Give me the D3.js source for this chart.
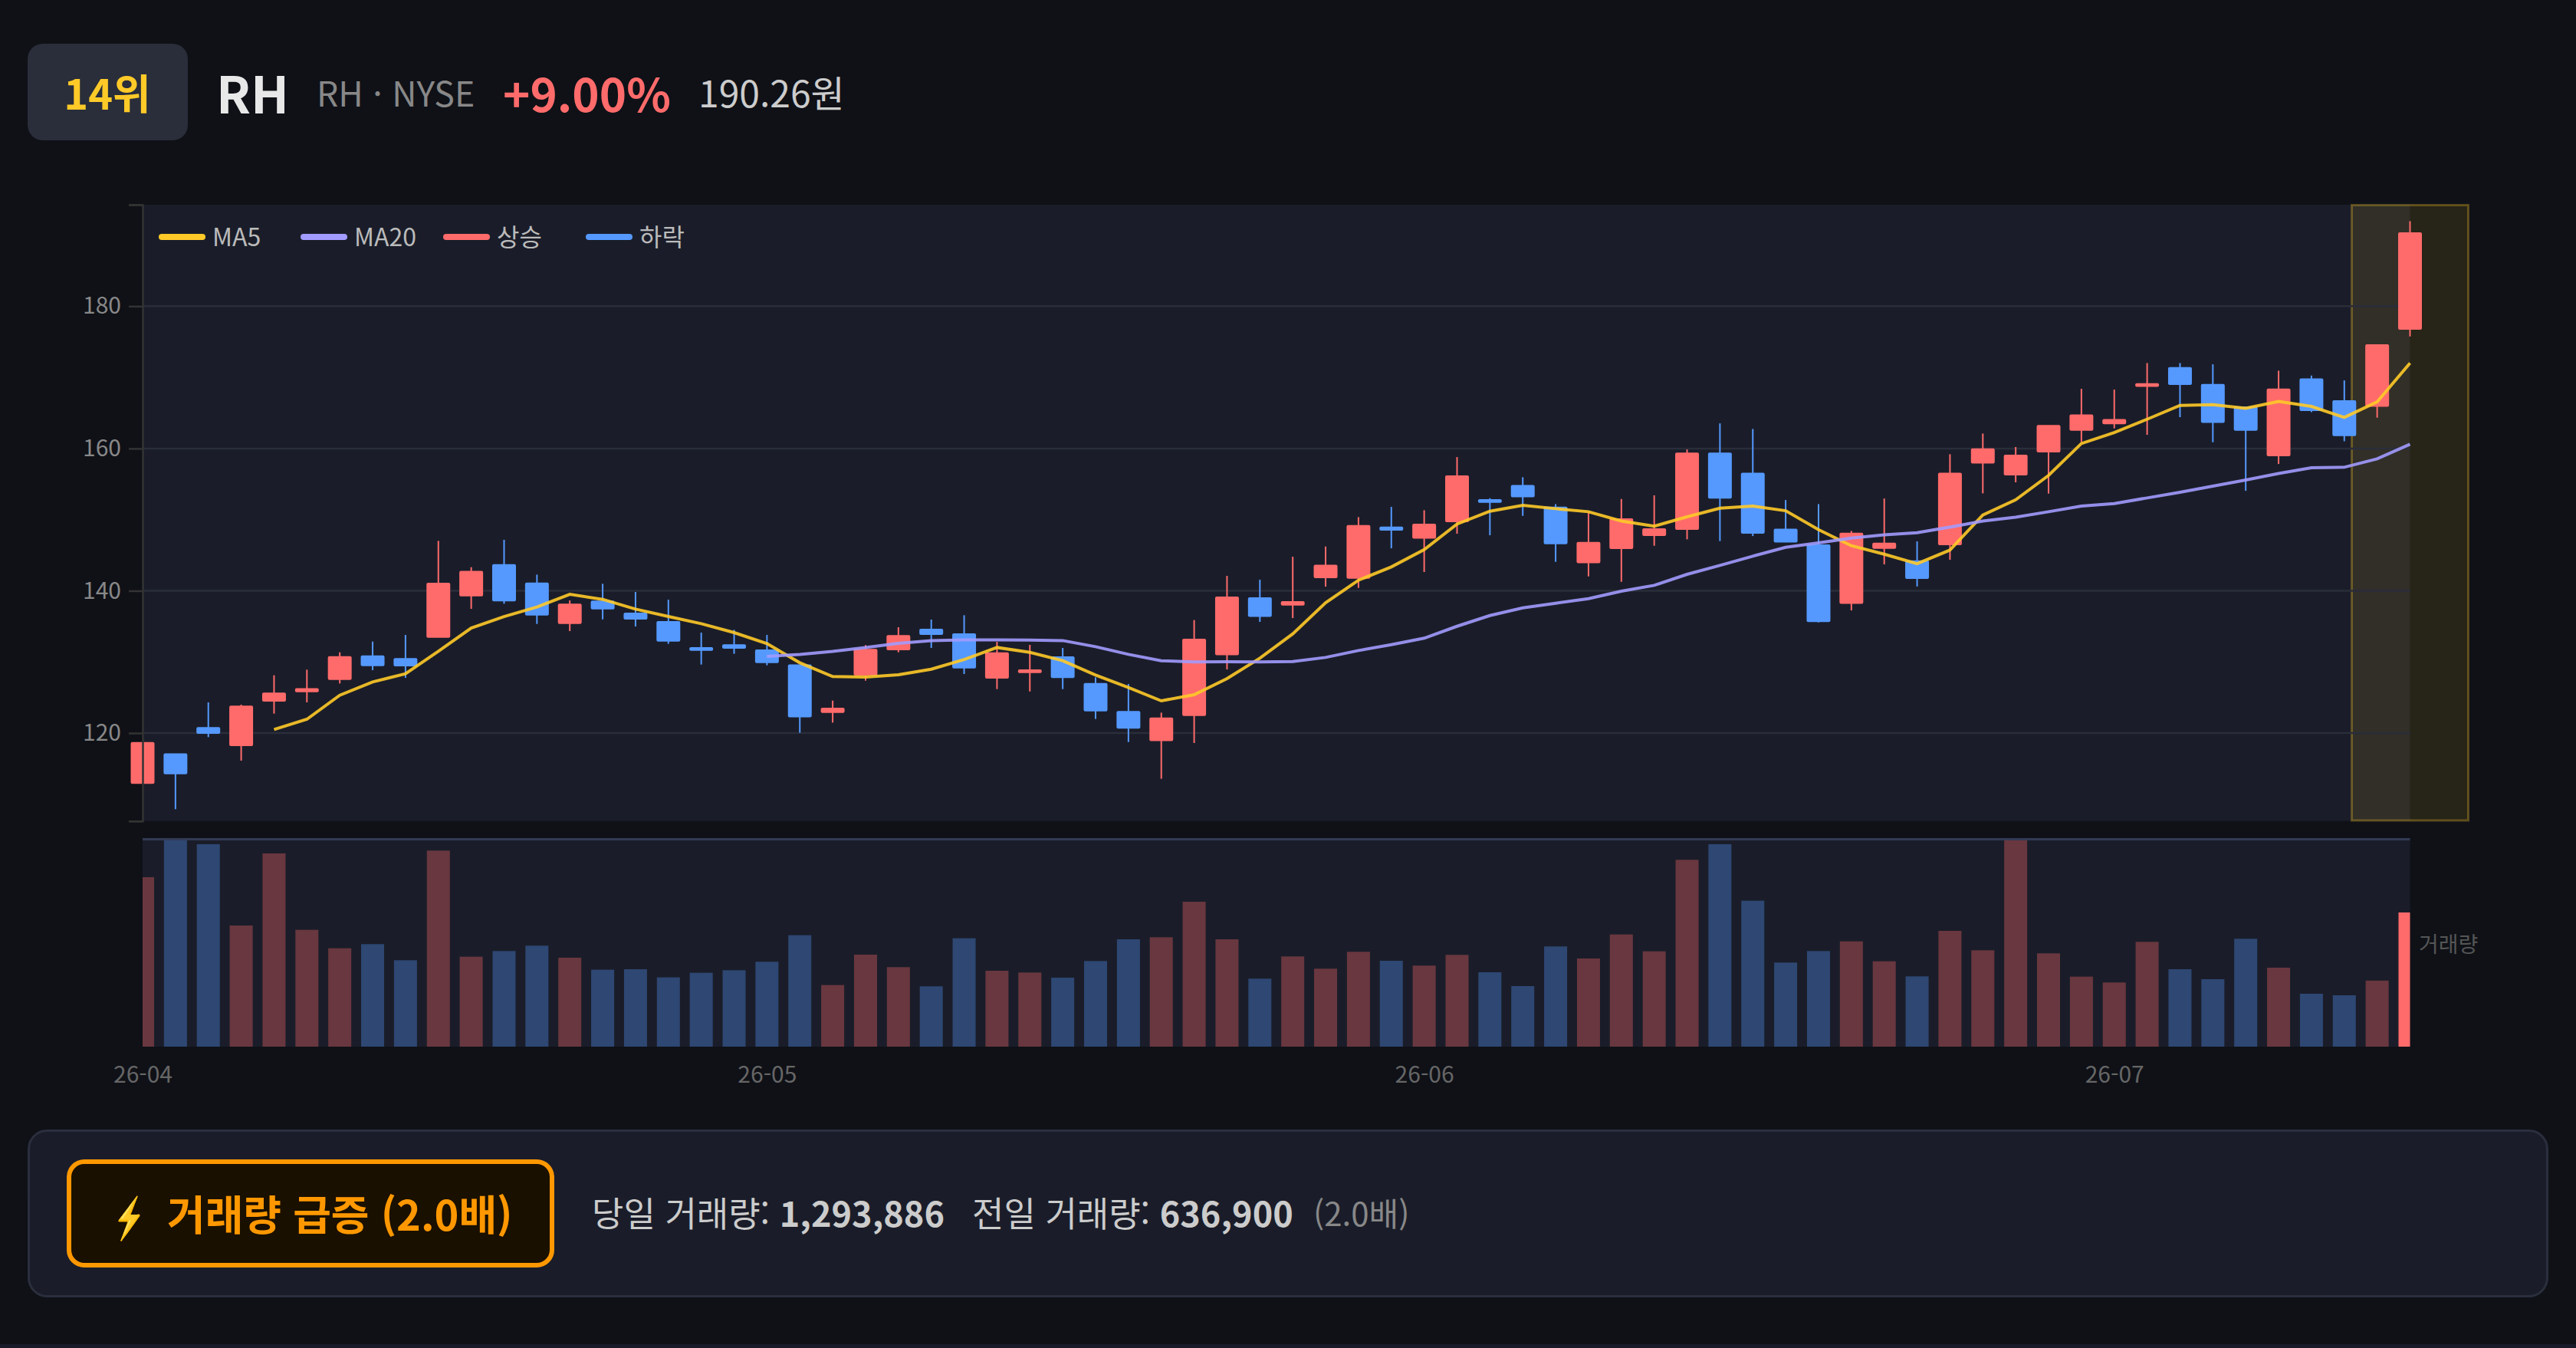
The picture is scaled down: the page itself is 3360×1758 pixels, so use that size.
<!DOCTYPE html>
<html lang="ko">
<head>
<meta charset="utf-8">
<title>RH</title>
<script src="https://cdn.jsdelivr.net/npm/d3@7"></script>
<style>
  html, body { margin: 0; padding: 0; background: #0f1117; }
  svg { display: block; }
  text { font-family: "Noto Sans CJK KR", "Noto Sans", sans-serif; }
</style>
</head>
<body>
<svg id="chart" width="3360" height="1758"></svg>
<script>
// values
const opens = [112.96,117.05,120.72,118.28,124.53,125.85,127.58,130.81,130.42,133.51,139.32,143.64,141.05,135.45,138.5,136.81,135.63,131.96,132.36,131.64,129.55,122.95,128.19,131.75,134.55,133.9,127.76,128.55,130.67,126.93,122.98,118.99,122.51,131.06,138.97,138.03,141.88,141.8,148.92,147.44,149.74,152.76,154.77,151.72,143.99,145.97,147.8,148.66,159.3,156.49,148.63,146.4,138.28,146.0,144.17,146.51,158.0,156.31,159.55,162.6,163.53,168.78,171.33,168.96,165.8,159.01,169.75,166.66,165.98,176.79];
const closes = [118.63,114.32,120.0,123.74,125.57,126.21,130.7,129.52,129.48,141.01,142.7,138.61,136.63,138.07,137.49,136.06,132.97,131.67,131.96,129.95,122.33,123.45,131.71,133.65,133.9,129.2,131.24,128.84,127.83,123.16,120.72,122.08,133.15,139.07,136.45,138.43,143.56,149.13,148.56,149.31,156.1,152.47,153.26,146.65,146.76,150.06,148.66,159.3,153.05,148.13,146.9,135.7,148.05,146.65,141.77,156.49,159.91,159.01,163.18,164.68,164.04,169.07,169.03,163.71,162.6,168.31,165.37,161.85,174.53,190.26];
const highs = [118.7,117.1,124.31,123.99,128.12,128.91,131.35,132.86,133.79,147.01,143.31,147.16,142.27,138.64,140.98,139.83,138.75,134.12,134.51,133.79,129.6,124.56,132.36,134.87,135.95,136.56,132.82,132.39,131.96,127.83,126.9,122.87,135.88,142.09,141.55,144.78,146.22,150.35,151.79,151.32,158.79,153.01,155.96,152.18,151.0,152.9,153.41,159.87,163.53,162.74,152.76,152.18,148.41,152.97,146.94,159.19,162.1,160.2,163.2,168.38,168.28,172.01,172.01,171.83,165.9,170.93,170.25,169.57,174.6,191.95];
const lows = [112.9,109.3,119.43,116.12,122.73,124.31,126.97,128.84,127.76,133.51,137.46,138.18,135.34,134.33,135.98,134.98,132.54,129.63,131.14,129.52,120.04,121.47,127.36,131.35,131.96,128.3,126.18,125.85,126.18,121.98,118.74,113.57,118.6,128.94,135.63,136.16,140.58,140.4,145.97,142.63,148.02,147.8,150.53,144.07,142.02,141.26,146.33,147.23,146.98,147.69,146.83,135.55,137.24,143.71,140.6,144.35,153.69,155.24,153.66,160.88,162.82,161.92,164.4,160.88,154.05,157.82,165.11,161.02,164.33,175.75];
const volumes = [1633964,1996245,1951884,1168173,1863162,1126277,948833,988265,832981,1890272,867504,921723,973478,857646,741815,746744,667880,712241,736886,818214,1074522,593945,887220,766460,581622,1044948,731957,714705,665415,825608,1035090,1054806,1397372,1035090,655557,869969,751673,914330,828072,781247,884756,717170,584087,966084,850253,1081916,919259,1801550,1951884,1407230,810821,921723,1015374,823143,677738,1116419,929117,1996245,899543,675273,618590,1010445,746744,650628,1040019,761531,510152,495365,636900,1293886];
const ma5 = [null,null,null,null,120.5,121.94,125.32,127.18,128.33,131.49,134.76,136.38,137.71,139.5,138.79,137.42,136.38,135.37,134.12,132.57,129.88,127.94,127.87,128.19,128.98,130.34,132.03,131.35,130.17,128.15,126.39,124.53,125.39,127.65,130.52,133.94,138.32,141.48,143.35,145.79,149.38,151.18,152.0,151.54,151.11,149.81,149.09,150.39,151.61,151.9,151.25,148.59,146.33,145.14,143.81,145.72,150.64,152.79,156.21,160.7,162.24,164.11,166.05,166.16,165.65,166.62,165.91,164.36,166.55,172.01];
const ma20 = [null,null,null,null,null,null,null,null,null,null,null,null,null,null,null,null,null,null,null,130.78,131.06,131.49,132.03,132.61,133.0,133.11,133.11,133.07,133.0,132.14,131.06,130.17,129.99,130.02,129.99,130.06,130.63,131.6,132.43,133.33,135.01,136.52,137.6,138.25,138.89,139.94,140.76,142.31,143.56,144.86,146.11,146.72,147.41,147.87,148.16,148.95,149.81,150.35,151.11,151.9,152.26,153.05,153.84,154.7,155.56,156.49,157.28,157.36,158.54,160.59];
const monthTicks = [0, 19, 39, 60];
const monthLabels = ["26-04", "26-05", "26-06", "26-07"];
const priceTicks = [120, 140, 160, 180];
const legendNames = ["MA5", "MA20", "상승", "하락"];

const UP = "#ff6b6b", DOWN = "#5599ff", MA5C = "#ffca28", MA20C = "#a29bfe";
const GOLD = "#ff9800";

const svg = d3.select("#chart");
const idx = d3.range(closes.length);

const x = d3.scalePoint().domain(idx).range([186, 3143.5]);
const y = d3.scaleLinear().domain([107.64, 194.26]).range([1070.7, 267]);
const v = d3.scaleLinear().domain([0, 2003500]).range([1365, 1094]);

// header
svg.append("rect").attr("x", 36).attr("y", 57).attr("width", 209).attr("height", 126).attr("rx", 20).attr("fill", "#2a2e3a");
const header = [
  {t: "14위", x: 140, a: "middle", s: 54, w: 700, c: MA5C},
  {t: "RH", x: 282, a: "start", s: 66, w: 700, c: "#e8e8e8"},
  {t: "RH · NYSE", x: 413, a: "start", s: 44.6, w: 400, c: "#888888"},
  {t: "+9.00%", x: 656, a: "start", s: 60, w: 700, c: UP},
  {t: "190.26원", x: 911, a: "start", s: 48, w: 400, c: "#cccccc"}
];
svg.selectAll("text.head").data(header).join("text").attr("class", "head")
  .attr("x", d => d.x).attr("y", 119).attr("dominant-baseline", "central")
  .attr("text-anchor", d => d.a).attr("font-size", d => d.s).attr("font-weight", d => d.w)
  .attr("fill", d => d.c).text(d => d.t);

// plot backgrounds
svg.append("rect").attr("x", 186).attr("y", 267).attr("width", 2957.5).attr("height", 803.7).attr("fill", "#1a1d29");
svg.append("rect").attr("x", 186).attr("y", 1094).attr("width", 2957.5).attr("height", 271).attr("fill", "#1a1d29");

// highlight for the last day
svg.append("rect").attr("x", 3067.5).attr("y", 267.5).attr("width", 152).attr("height", 802.5)
  .attr("fill", MA5C).attr("fill-opacity", 0.1)
  .attr("stroke", MA5C).attr("stroke-opacity", 0.3).attr("stroke-width", 3);

// grid
svg.append("g").selectAll("line").data(priceTicks).join("line")
  .attr("x1", 186).attr("x2", 3143.5)
  .attr("y1", d => y(d)).attr("y2", d => y(d))
  .attr("stroke", "#2a2d3a").attr("stroke-width", 2.5);

// candles
const candles = svg.append("g").selectAll("g").data(idx).join("g")
  .attr("fill", i => closes[i] >= opens[i] ? UP : DOWN)
  .attr("stroke", i => closes[i] >= opens[i] ? UP : DOWN);
candles.append("line")
  .attr("x1", i => x(i)).attr("x2", i => x(i))
  .attr("y1", i => y(highs[i])).attr("y2", i => y(lows[i]))
  .attr("stroke-width", 2);
candles.append("rect")
  .attr("x", i => x(i) - 14.5).attr("width", 29)
  .attr("y", i => y(Math.max(opens[i], closes[i])))
  .attr("height", i => Math.abs(y(opens[i]) - y(closes[i])))
  .attr("stroke-width", 2).attr("rx", 1);

// moving averages
[[ma5, MA5C], [ma20, MA20C]].forEach(([vals, col]) => {
  svg.append("path")
    .datum(vals.map((val, i) => ({i, val})))
    .attr("d", d3.line().defined(d => d.val !== null).x(d => x(d.i)).y(d => y(d.val)))
    .attr("fill", "none").attr("stroke", col).attr("stroke-width", 4).attr("stroke-opacity", 0.9);
});

// price axis
const yAxis = d3.axisLeft(y)
  .tickValues([y.domain()[0], ...priceTicks, y.domain()[1]])
  .tickFormat(d => priceTicks.includes(d) ? d : "")
  .tickSize(18).tickPadding(10);
const yg = svg.append("g").attr("transform", "translate(186,0)").call(yAxis);
yg.select(".domain").attr("stroke", "#333").attr("stroke-width", 2.5);
yg.selectAll(".tick line").attr("stroke", "#333").attr("stroke-width", 2.5);
yg.selectAll(".tick text").attr("fill", "#888").attr("font-size", 30)
  .style("font-family", '"Noto Sans CJK KR", sans-serif');

// volume
svg.append("clipPath").attr("id", "volClip").append("rect")
  .attr("x", 186).attr("y", 1094).attr("width", 2957.5).attr("height", 271);
svg.append("g").attr("clip-path", "url(#volClip)")
  .selectAll("rect").data(idx).join("rect")
  .attr("x", i => x(i) - 15).attr("width", 30)
  .attr("y", i => v(volumes[i])).attr("height", i => v(0) - v(volumes[i]))
  .attr("fill", i => closes[i] >= opens[i] ? UP : DOWN)
  .attr("fill-opacity", i => i === idx.length - 1 ? 1 : 0.35);
svg.append("line").attr("x1", 186).attr("x2", 3143.5).attr("y1", 1094.5).attr("y2", 1094.5)
  .attr("stroke", "#323a55").attr("stroke-width", 3);

const xAxis = d3.axisBottom(x)
  .tickValues(monthTicks)
  .tickFormat((d, i) => monthLabels[i])
  .tickSize(0).tickPadding(26);
const xg = svg.append("g").attr("transform", "translate(0,1365)").call(xAxis);
xg.select(".domain").remove();
xg.selectAll(".tick text").attr("fill", "#666").attr("font-size", 30)
  .style("font-family", '"Noto Sans CJK KR", sans-serif');

svg.append("text").attr("x", 3155).attr("y", 1230).attr("dominant-baseline", "central")
  .attr("font-size", 28).attr("fill", "#555").text("거래량");

// legend
const legendX = [207, 392, 578, 764];
const legendColors = [MA5C, MA20C, UP, DOWN];
const lg = svg.append("g").selectAll("g").data(legendNames).join("g")
  .attr("transform", (d, i) => `translate(${legendX[i]},309)`);
lg.append("rect").attr("y", -4).attr("width", 61).attr("height", 8).attr("rx", 4)
  .attr("fill", (d, i) => legendColors[i]);
lg.append("text").attr("x", 70).attr("y", -2).attr("dominant-baseline", "central")
  .attr("font-size", 32).attr("fill", "#bbbbbb").text(d => d);

// volume spike card
svg.append("rect").attr("x", 37.5).attr("y", 1474.5).attr("width", 3285).attr("height", 216).attr("rx", 24)
  .attr("fill", "#1a1d29").attr("stroke", "#2a2e3d").attr("stroke-width", 3);
svg.append("rect").attr("x", 90).attr("y", 1515).attr("width", 630).attr("height", 135).attr("rx", 20)
  .attr("fill", "#1a1000").attr("stroke", GOLD).attr("stroke-width", 6);
svg.append("text").attr("transform", "translate(148,1584) scale(0.72,1.15)").attr("dominant-baseline", "central")
  .attr("font-size", 46).attr("font-family", '"DejaVu Sans"').attr("fill", MA5C)
  .attr("stroke", GOLD).attr("stroke-width", 1.5).text("⚡");
svg.append("text").attr("x", 218).attr("y", 1581).attr("dominant-baseline", "central")
  .attr("font-size", 54).attr("font-weight", 700).attr("fill", GOLD).text("거래량 급증 (2.0배)");

const info = svg.append("text").attr("x", 772).attr("y", 1580).attr("dominant-baseline", "central")
  .attr("font-size", 45).attr("fill", "#cccccc");
info.append("tspan").text("당일 거래량: ");
info.append("tspan").attr("font-weight", 700).text("1,293,886");
svg.append("text").attr("x", 1268).attr("y", 1580).attr("dominant-baseline", "central")
  .attr("font-size", 45).attr("fill", "#cccccc")
  .call(t => { t.append("tspan").text("전일 거래량: "); t.append("tspan").attr("font-weight", 700).text("636,900"); });
svg.append("text").attr("x", 1713).attr("y", 1580).attr("dominant-baseline", "central")
  .attr("font-size", 42).attr("fill", "#888888").text("(2.0배)");

// edge of the next card
svg.append("rect").attr("x", 0).attr("y", 1753).attr("width", 3360).attr("height", 5).attr("fill", "#1a1d29");
</script>
</body>
</html>
